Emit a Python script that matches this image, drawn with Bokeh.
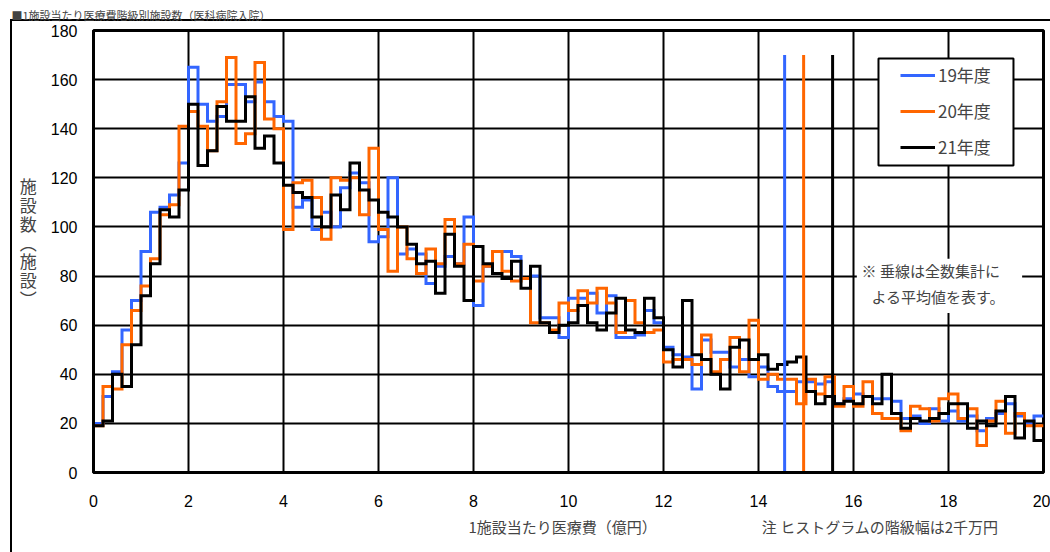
import numpy as np
from bokeh.plotting import figure
from bokeh.models import (Range1d, Legend, LegendItem, Label, BoxAnnotation,
                          FixedTicker, ColumnDataSource, Title)
from bokeh.embed import file_html
from bokeh.resources import INLINE

# ---------------- data ----------------
title_text = "■1施設当たり医療費階級別施設数（医科病院入院）"
series_names = ["19年度", "20年度", "21年度"]
series_colors = ["#3366FF", "#FF6600", "#000000"]
bin_width = 0.2   # 億円 (2千万円)

counts_19 = [20, 31, 41, 58, 70, 90, 106, 108, 113, 126, 165, 150, 143, 145, 158, 158, 151, 159, 151, 145,
             143, 108, 111, 99, 106, 100, 116, 122, 118, 94, 96, 120, 89, 91, 89, 77, 84, 88, 85, 104,
             68, 84, 90, 90, 88, 79, 80, 63, 63, 55, 71, 71, 73, 65, 72, 55, 55, 56, 66, 61,
             51, 48, 47, 34, 54, 49, 49, 43, 46, 39, 43, 35, 33, 33, 37, 37, 36, 37, 28, 30,
             32, 31, 30, 30, 29, 22, 23, 20, 26, 21, 25, 21, 23, 17, 22, 24, 28, 23, 20, 23]
counts_20 = [19, 35, 34, 52, 66, 76, 87, 105, 109, 141, 147, 141, 131, 151, 169, 134, 138, 167, 144, 140,
             99, 118, 119, 112, 95, 120, 119, 120, 105, 132, 99, 82, 100, 87, 81, 91, 85, 103, 85, 93,
             78, 84, 90, 82, 78, 79, 61, 61, 58, 69, 66, 74, 69, 75, 69, 57, 70, 61, 57, 58,
             45, 46, 46, 44, 56, 41, 46, 55, 41, 62, 38, 40, 38, 38, 28, 38, 32, 39, 27, 35,
             27, 37, 24, 22, 22, 17, 27, 26, 21, 30, 32, 22, 26, 11, 21, 29, 16, 24, 19, 19]
counts_21 = [19, 21, 40, 35, 52, 72, 85, 107, 104, 115, 150, 125, 131, 149, 143, 143, 153, 132, 137, 126,
             117, 114, 112, 104, 100, 113, 107, 126, 115, 111, 106, 104, 100, 93, 85, 86, 73, 97, 84, 70,
             92, 85, 81, 79, 86, 75, 84, 61, 57, 60, 61, 68, 61, 58, 65, 71, 58, 57, 71, 63,
             50, 43, 70, 48, 46, 40, 34, 51, 54, 46, 48, 42, 44, 45, 47, 33, 28, 31, 28, 29,
             28, 31, 28, 40, 24, 18, 22, 21, 22, 24, 28, 28, 18, 21, 19, 25, 31, 14, 21, 13]

mean_values = [14.55, 14.95, 15.56]   # 全数集計による平均値
mean_line_top = 170

x_ticks = list(range(0, 21, 2))
y_ticks = list(range(0, 181, 20))

x_label = "1施設当たり医療費（億円）"
note_text = "注 ヒストグラムの階級幅は2千万円"
y_label_chars = ["施", "設", "数", "︵", "施", "設", "︶"]
remark_line1 = "※  垂線は全数集計に"
remark_line2 = "よる平均値を表す。"

JP = "Noto Sans CJK JP"
NUM = "Liberation Sans"

# ---------------- figure ----------------
p = figure(width=1050, height=552, output_backend="svg", toolbar_location=None,
           x_range=Range1d(0, 20), y_range=Range1d(0, 180),
           min_border_left=93, min_border_right=7, min_border_top=30, min_border_bottom=80)
p.background_fill_color = "white"
p.border_fill_alpha = 0
p.outline_line_color = "black"
p.outline_line_width = 3
# outer frame of the whole chart (left and top edges are inside the window)
p.styles = {
    "background-color": "white",
    "background-image": "linear-gradient(#000, #000), linear-gradient(#000, #000)",
    "background-position": "10px 19px, 10px 19px",
    "background-size": "2px 700px, 1200px 2px",
    "background-repeat": "no-repeat",
}

# title
p.add_layout(Title(text=title_text, align="left", offset=-82, text_font=JP,
                   text_font_size="11px", text_font_style="normal",
                   vertical_align="top", standoff=11), "above")

# grid
for g, t in ((p.xgrid, x_ticks), (p.ygrid, y_ticks)):
    g.ticker = FixedTicker(ticks=t)
    g.grid_line_color = "black"
    g.grid_line_width = 2
    g.grid_line_alpha = 1.0

# axes
p.xaxis.ticker = FixedTicker(ticks=x_ticks)
p.yaxis.ticker = FixedTicker(ticks=y_ticks)
for ax in (p.xaxis[0], p.yaxis[0]):
    ax.axis_line_color = "black"
    ax.axis_line_width = 3
    ax.major_tick_out = 0
    ax.major_tick_in = 0
    ax.minor_tick_out = 0
    ax.minor_tick_in = 0
    ax.major_label_text_font = NUM
    ax.major_label_text_font_size = "16px"
    ax.major_label_text_color = "black"
p.xaxis.major_label_standoff = 22
p.yaxis.major_label_standoff = 16

# x-axis title and the class-width note share one row below the axis
pad_left = "\u3000" * 22
gap = "\u3000" * 7 + "\u2002"
p.xaxis.axis_label = pad_left + x_label + gap + note_text
p.xaxis.axis_label_text_font = JP
p.xaxis.axis_label_text_font_size = "15px"
p.xaxis.axis_label_text_font_style = "normal"
p.xaxis.axis_label_standoff = 6

# y-axis title: upright characters stacked vertically (a blank last line lifts it a little)
p.yaxis.axis_label = "\n".join(y_label_chars + ["\u3000"])
p.yaxis.axis_label_orientation = "horizontal"
p.yaxis.axis_label_text_font = JP
p.yaxis.axis_label_text_font_size = "17px"
p.yaxis.axis_label_text_font_style = "normal"
p.yaxis.axis_label_text_line_height = 0.75
p.yaxis.axis_label_standoff = 11

# histograms (step outlines)
edges = np.arange(len(counts_19) + 1) * bin_width
renderers = []
for counts, color in zip([counts_19, counts_20, counts_21], series_colors):
    yy = list(counts) + [counts[-1]]
    r = p.step(x=edges, y=yy, mode="after", line_color=color, line_width=3,
               line_join="miter")
    renderers.append(r)

# mean vertical lines
mean_src = ColumnDataSource(dict(x=mean_values, top=[mean_line_top] * 3,
                                 bottom=[0] * 3, color=series_colors))
p.segment(x0="x", y0="bottom", x1="x", y1="top", line_color="color",
          line_width=3, source=mean_src)

# remark box
p.add_layout(BoxAnnotation(left=16.07, right=19.55, bottom=65.0, top=87.0,
                           fill_color="white", fill_alpha=1.0, line_alpha=0))
p.add_layout(Label(x=16.17, y=82.2, text=remark_line1, text_font=JP,
                   text_font_size="15px", text_baseline="middle", text_align="left"))
p.add_layout(Label(x=16.38, y=71.7, text=remark_line2, text_font=JP,
                   text_font_size="15px", text_baseline="middle", text_align="left"))

# legend box + legend
p.add_layout(BoxAnnotation(left=16.526, right=19.368, bottom=125.0, top=168.6,
                           fill_color="white", fill_alpha=1.0,
                           line_color="black", line_alpha=1.0, line_width=2))
legend = Legend(items=[LegendItem(label=n, renderers=[r]) for n, r in zip(series_names, renderers)],
                location=(799, 305), orientation="vertical", padding=8, spacing=11,
                label_height=20, glyph_height=20, glyph_width=35, label_standoff=3,
                label_text_font=JP, label_text_font_size="17px",
                border_line_alpha=0, background_fill_alpha=0, margin=0)
p.add_layout(legend)

open("out.html", "w").write(file_html(p, INLINE))
